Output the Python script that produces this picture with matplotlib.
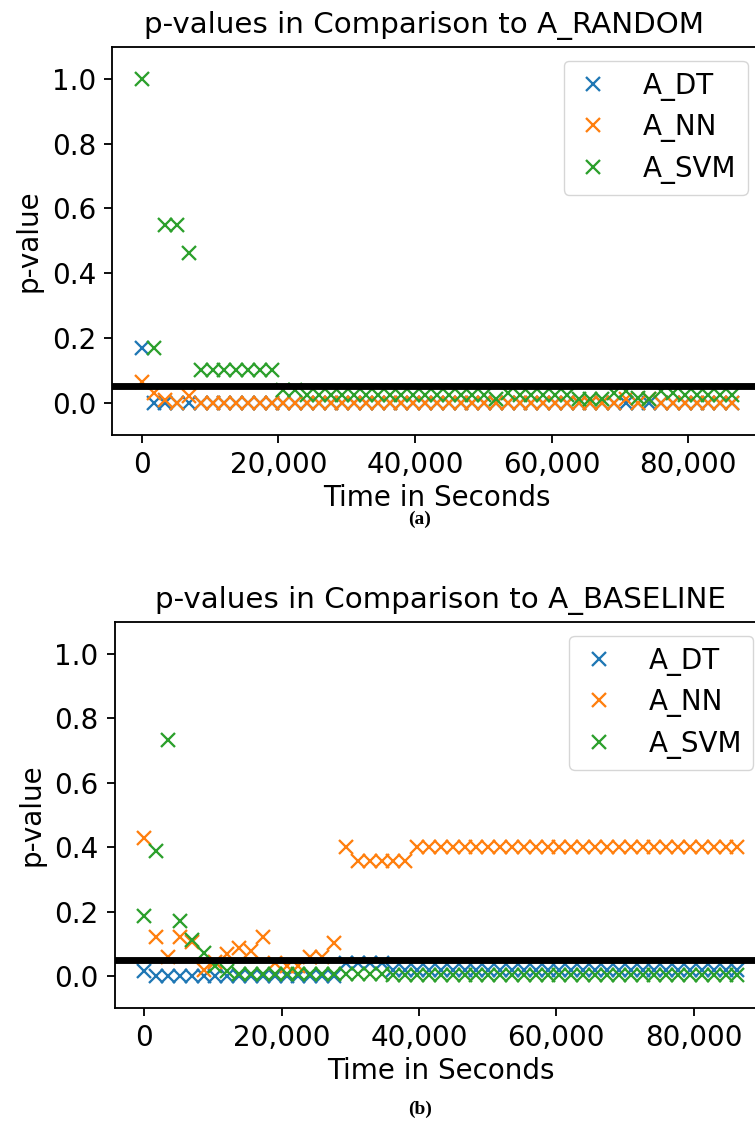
"""
p-values of the three agents against A_RANDOM and A_BASELINE over time.
"""

import matplotlib
matplotlib.use("Agg")
import matplotlib.pyplot as plt
from matplotlib.ticker import StrMethodFormatter

# time stamps (seconds)
times = [
    0, 1728, 3456, 5184, 6912, 8640, 10368, 12096, 13824, 15552,
    17280, 19008, 20736, 22464, 24192, 25920, 27648, 29376, 31104, 32832,
    34560, 36288, 38016, 39744, 41472, 43200, 44928, 46656, 48384, 50112,
    51840, 53568, 55296, 57024, 58752, 60480, 62208, 63936, 65664, 67392,
    69120, 70848, 72576, 74304, 76032, 77760, 79488, 81216, 82944, 84672,
    86400,
]

# (a) comparison to A_RANDOM
dt_random = [
    0.168, 0.0, 0.0, 0.0, 0.0, 0.0, 0.0, 0.0, 0.0, 0.0,
    0.0, 0.0, 0.0, 0.0, 0.0, 0.0, 0.0, 0.0, 0.0, 0.0,
    0.0, 0.0, 0.0, 0.0, 0.0, 0.0, 0.0, 0.0, 0.0, 0.0,
    0.0, 0.0, 0.0, 0.0, 0.0, 0.0, 0.0, 0.0, 0.0, 0.0,
    0.0, 0.0, 0.0, 0.0, 0.0, 0.0, 0.0, 0.0, 0.0, 0.0,
    0.0,
]
nn_random = [
    0.065, 0.03, 0.008, 0.0, 0.02, 0.0, 0.0, 0.0, 0.0, 0.0,
    0.0, 0.0, 0.0, 0.0, 0.0, 0.0, 0.0, 0.0, 0.0, 0.0,
    0.0, 0.0, 0.0, 0.0, 0.0, 0.0, 0.0, 0.0, 0.0, 0.0,
    0.0, 0.0, 0.0, 0.0, 0.0, 0.0, 0.0, 0.0, 0.0, 0.0,
    0.0, 0.012, 0.0, 0.012, 0.0, 0.0, 0.0, 0.0, 0.0, 0.0,
    0.0,
]
svm_random = [
    1.0, 0.168, 0.55, 0.55, 0.463, 0.1, 0.1, 0.1, 0.1, 0.1,
    0.1, 0.1, 0.04, 0.04, 0.025, 0.025, 0.025, 0.025, 0.025, 0.025,
    0.025, 0.025, 0.025, 0.025, 0.025, 0.025, 0.025, 0.025, 0.025, 0.025,
    0.012, 0.03, 0.025, 0.025, 0.025, 0.025, 0.025, 0.01, 0.01, 0.01,
    0.03, 0.035, 0.015, 0.01, 0.035, 0.03, 0.025, 0.025, 0.025, 0.025,
    0.025,
]

# (b) comparison to A_BASELINE
dt_baseline = [
    0.015, 0.0, 0.0, 0.0, 0.0, 0.0, 0.0, 0.0, 0.0, 0.0,
    0.0, 0.0, 0.0, 0.0, 0.0, 0.0, 0.0, 0.04, 0.04, 0.04,
    0.04, 0.018, 0.018, 0.018, 0.018, 0.018, 0.018, 0.018, 0.018, 0.018,
    0.018, 0.018, 0.018, 0.018, 0.018, 0.018, 0.018, 0.018, 0.018, 0.018,
    0.018, 0.018, 0.018, 0.018, 0.018, 0.018, 0.018, 0.018, 0.018, 0.018,
    0.018,
]
nn_baseline = [
    0.43, 0.12, 0.06, 0.12, 0.105, 0.02, 0.045, 0.067, 0.088, 0.077,
    0.12, 0.04, 0.03, 0.03, 0.058, 0.058, 0.103, 0.40, 0.356, 0.356,
    0.356, 0.356, 0.356, 0.40, 0.40, 0.40, 0.40, 0.40, 0.40, 0.40,
    0.40, 0.40, 0.40, 0.40, 0.40, 0.40, 0.40, 0.40, 0.40, 0.40,
    0.40, 0.40, 0.40, 0.40, 0.40, 0.40, 0.40, 0.40, 0.40, 0.40,
    0.40,
]
svm_baseline = [
    0.186, 0.387, 0.732, 0.17, 0.113, 0.072, 0.03, 0.015, 0.008, 0.008,
    0.008, 0.008, 0.008, 0.008, 0.008, 0.008, 0.008, 0.008, 0.008, 0.008,
    0.008, 0.003, 0.003, 0.003, 0.003, 0.003, 0.003, 0.003, 0.003, 0.003,
    0.003, 0.003, 0.003, 0.003, 0.003, 0.003, 0.003, 0.003, 0.003, 0.003,
    0.003, 0.003, 0.003, 0.003, 0.003, 0.003, 0.003, 0.003, 0.003, 0.003,
    0.003,
]

labels = ["A_DT", "A_NN", "A_SVM"]
threshold = 0.05

# the original was a scaled-up default matplotlib figure
s = 1.65
plt.rcParams.update({
    "font.size": 20,
    "axes.linewidth": 0.8 * s,
    "xtick.major.size": 3.5 * s,
    "ytick.major.size": 3.5 * s,
    "xtick.major.width": 0.8 * s,
    "ytick.major.width": 0.8 * s,
    "xtick.major.pad": 3.5 * s,
    "ytick.major.pad": 3.5 * s,
    "axes.titlepad": 6 * s,
    "axes.labelpad": 4 * s,
})

W, H = 755, 1126
fig = plt.figure(figsize=(W / 100, H / 100), dpi=100)


def panel(rect, series, title, title_x, caption, cap_y):
    """One p-value panel plus its (a)/(b) caption."""
    l, t, r, b = rect
    ax = fig.add_axes([l / W, 1 - b / H, (r - l) / W, (b - t) / H])
    for values, name in zip(series, labels):
        ax.plot(times, values, "x", markersize=6 * s, markeredgewidth=1.0 * s, label=name)
    ax.axhline(threshold, color="black", linewidth=3 * s)
    ax.set_ylim(-0.1, 1.1)
    ax.set_yticks([0.0, 0.2, 0.4, 0.6, 0.8, 1.0])
    ax.set_xticks([0, 20000, 40000, 60000, 80000])
    ax.xaxis.set_major_formatter(StrMethodFormatter("{x:,.0f}"))
    ax.set_title(title, fontsize=21.2, x=title_x)
    ax.set_xlabel("Time in Seconds", labelpad=3.5)
    ax.set_ylabel("p-value")
    ax.legend(loc="upper right", handlelength=1.3, handletextpad=1.15,
              labelspacing=0.45)
    fig.text(0.556, 1 - cap_y / H, caption, ha="center", va="center",
             family="Liberation Serif", fontweight="bold", fontsize=14)
    return ax


panel((112.2, 46.7, 761.6, 435), [dt_random, nn_random, svm_random],
      "p-values in Comparison to A_RANDOM", 0.48, "(a)", 519)
panel((114.6, 621.7, 767.1, 1008.3), [dt_baseline, nn_baseline, svm_baseline],
      "p-values in Comparison to A_BASELINE", 0.5, "(b)", 1109)

fig.savefig("out.png", dpi=100)
plt.close(fig)
